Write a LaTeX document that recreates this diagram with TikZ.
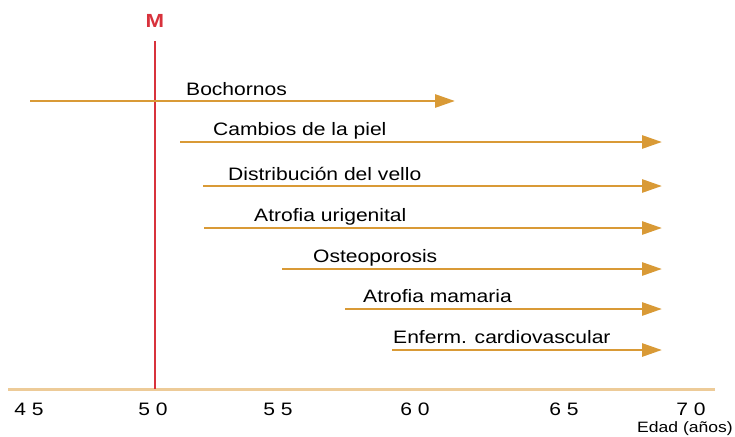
\documentclass[tikz,border=0pt]{standalone}
\usepackage{fontspec}
\setmainfont[FakeStretch=1.17]{Liberation Sans}
\usetikzlibrary{arrows.meta}
\definecolor{arrorange}{HTML}{D99A36}
\definecolor{axistan}{HTML}{EDCB98}
\definecolor{mred}{HTML}{D8323C}
\begin{document}
\begin{tikzpicture}[x=1pt,y=-1pt,
  arr/.style={draw=arrorange,line width=2.8pt,-{Triangle[length=20pt,width=13pt]}},
  lbl/.style={anchor=base west,inner sep=0pt,font=\fontsize{18}{20}\selectfont},
  tick/.style={anchor=base,inner sep=0pt,font=\fontsize{18}{20}\selectfont},
]
\useasboundingbox (0,0) rectangle (735,436);
% axis
\coordinate (ax0) at (8,389);
\coordinate (ax1) at (715,389);
\draw[axistan,line width=3pt] (ax0) -- (ax1);
% menopause line
\coordinate (m0) at (155,41);
\coordinate (m1) at (155,389);
\draw[mred,line width=2.5pt] (m0) -- (m1);
\node[anchor=base,inner sep=0pt,text=mred,font=\fontsize{19}{21}\selectfont\bfseries] (M) at (155,28) {M};
% arrows
\coordinate (s1) at (30,101);  \coordinate (e1) at (455,101);
\coordinate (s2) at (180,142); \coordinate (e2) at (662,142);
\coordinate (s3) at (203,186); \coordinate (e3) at (662,186);
\coordinate (s4) at (204,228); \coordinate (e4) at (662,228);
\coordinate (s5) at (282,269); \coordinate (e5) at (662,269);
\coordinate (s6) at (345,309); \coordinate (e6) at (662,309);
\coordinate (s7) at (392,350); \coordinate (e7) at (662,350);
\draw[arr] (s1) -- (e1);
\draw[arr] (s2) -- (e2);
\draw[arr] (s3) -- (e3);
\draw[arr] (s4) -- (e4);
\draw[arr] (s5) -- (e5);
\draw[arr] (s6) -- (e6);
\draw[arr] (s7) -- (e7);
\node[lbl] (l1) at (186,95)  {Bochornos};
\node[lbl] (l2) at (213,135) {Cambios de la piel};
\node[lbl] (l3) at (228,180) {Distribución del vello};
\node[lbl] (l4) at (254,221) {Atrofia urigenital};
\node[lbl] (l5) at (313,262) {Osteoporosis};
\node[lbl] (l6) at (363,302) {Atrofia mamaria};
\node[lbl] (l7) at (393,343) {Enferm. cardiovascular};
% ticks
\node[tick] (t45) at (29,415)  {4 5};
\node[tick] (t50) at (153,415) {5 0};
\node[tick] (t55) at (278,415) {5 5};
\node[tick] (t60) at (415,415) {6 0};
\node[tick] (t65) at (564,415) {6 5};
\node[tick] (t70) at (691,415) {7 0};
\node[anchor=base east,inner sep=0pt,font=\fontsize{15}{17}\selectfont] (edad) at (733,432) {Edad (años)};
\end{tikzpicture}
\end{document}
